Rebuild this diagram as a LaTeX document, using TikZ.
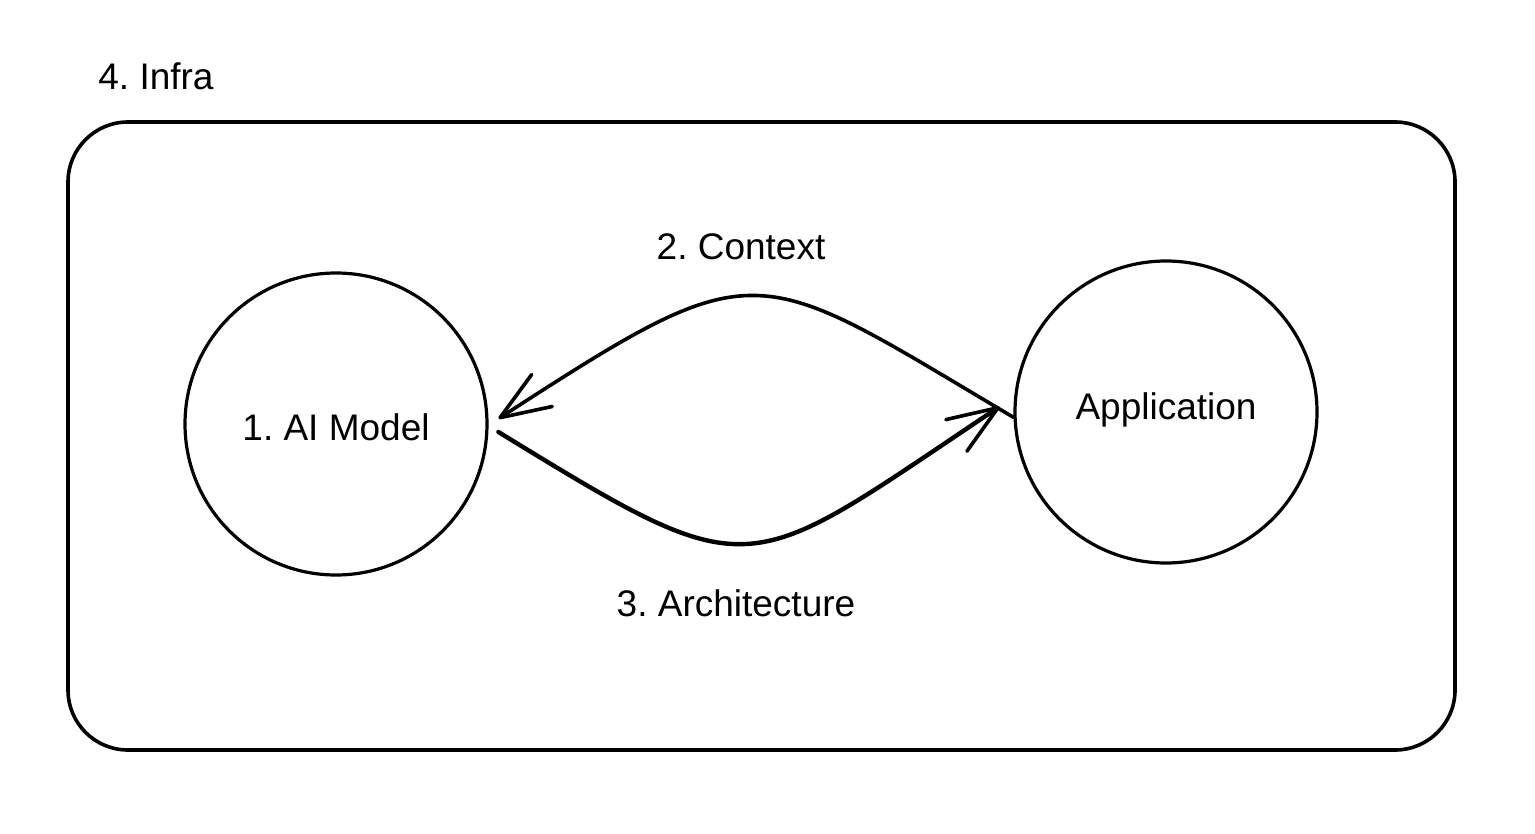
\documentclass[tikz,border=0pt]{standalone}
\usepackage{fontspec}
\setmainfont{Liberation Sans}
\usetikzlibrary{arrows.meta}
\begin{document}
\frenchspacing
\begin{tikzpicture}[x=0.5pt,y=-0.5pt,
  sketch/.style={line width=1.6pt, draw=black, line cap=round, line join=round},
  blob/.style={sketch, circle, minimum size=151pt, inner sep=0pt},
  lbl/.style={font=\fontsize{18.5}{22}\selectfont, inner sep=0pt},
  conn/.style={sketch, -{Straight Barb[length=25pt, width=19pt, round, line width=1.8pt]}}]
\useasboundingbox (0,0) rectangle (1535,834);
\draw[sketch, line width=1.8pt, rounded corners=30pt] (68,122) rectangle (1455,750);
\node[lbl, anchor=west] (infra) at (98,76) {4. Infra};
\node[blob] (ai) at (336,424) {};
\node[lbl] (ailbl) at (336,427) {1. AI Model};
\node[blob] (app) at (1166,412) {};
\node[lbl] (applbl) at (1166,410) {Application};
\draw[conn, line width=1.8pt] (app.182) .. controls (751,262) and (762,248) .. ([xshift=5pt]ai.2);
\draw[conn, line width=2.2pt] ([xshift=5pt]ai.-3) .. controls (758,591) and (741,579) .. ([xshift=-7pt]app.-182);
\node[lbl] (ctx) at (741,247) {2. Context};
\node[lbl] (arch) at (736,603) {3. Architecture};
\end{tikzpicture}
\end{document}
